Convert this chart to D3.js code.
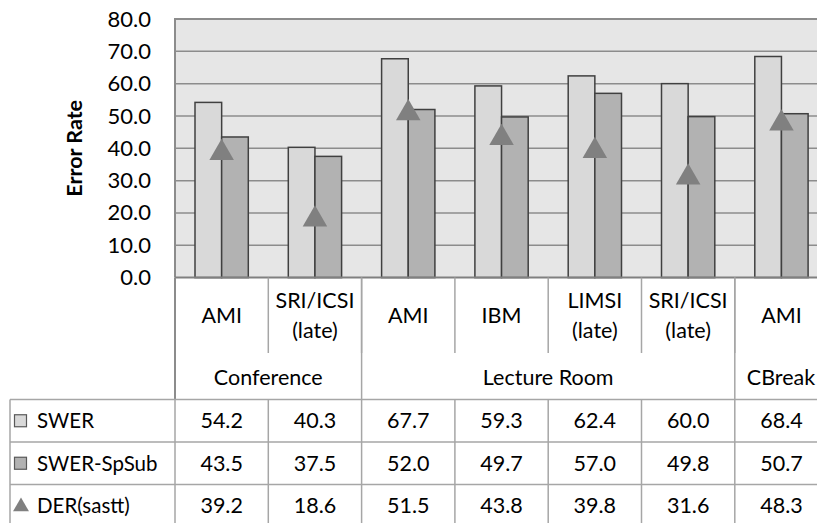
<!DOCTYPE html>
<html>
<head>
<meta charset="utf-8">
<script src="https://cdn.jsdelivr.net/npm/d3@7/dist/d3.min.js"></script>
<style>
  html, body { margin: 0; padding: 0; background: #ffffff; }
  svg { display: block; }
  text { font-family: Lato, "Noto Sans", sans-serif; fill: #000; }
</style>
</head>
<body>
<div id="chart"></div>
<script>
// ---- data ----
const categories = ["AMI", "SRI/ICSI\n(late)", "AMI", "IBM", "LIMSI\n(late)", "SRI/ICSI\n(late)", "AMI"];
const groups = [
  { name: "Conference", start: 0, end: 2 },
  { name: "Lecture Room", start: 2, end: 6 },
  { name: "CBreak", start: 6, end: 7 }
];
const seriesNames = ["SWER", "SWER-SpSub", "DER(sastt)"];
const swer = [54.2, 40.3, 67.7, 59.3, 62.4, 60.0, 68.4];
const swerSpSub = [43.5, 37.5, 52.0, 49.7, 57.0, 49.8, 50.7];
const derSastt = [39.2, 18.6, 51.5, 43.8, 39.8, 31.6, 48.3];
const yTicks = [0, 10, 20, 30, 40, 50, 60, 70, 80];
const yLabel = "Error Rate";

// ---- layout ----
const W = 817, H = 523;
const plotLeft = 175, plotTop = 19, plotBottom = 277.6;
const bandW = 93.3;
const plotRight = plotLeft + bandW * categories.length;
const labelRowBottom = 353, groupRowBottom = 399.5;
const rowH = 42.5;
const tableLeft = 10;
const FS = 21.5;

const svg = d3.select("#chart").append("svg").attr("width", W).attr("height", H);

const idx = categories.map((d, i) => i);
const x = d3.scaleBand().domain(idx).range([plotLeft, plotRight]).paddingInner(0).paddingOuter(0);
const x1 = d3.scaleBand().domain([0, 1]).range([20, x.bandwidth() - 20]);
const y = d3.scaleLinear().domain([0, 80]).range([plotBottom, plotTop]);

// plot background
svg.append("rect").attr("x", plotLeft).attr("y", y(80)).attr("width", plotRight - plotLeft)
  .attr("height", y(0) - y(80)).attr("fill", "#e6e6e6");

// gridlines
svg.append("g").selectAll("line").data(yTicks.filter(t => t > 0)).join("line")
  .attr("x1", plotLeft).attr("x2", plotRight)
  .attr("y1", d => y(d)).attr("y2", d => y(d))
  .attr("stroke", "#8c8c8c").attr("stroke-width", d => d === 80 ? 2 : 1.5);

// left border of plot
svg.append("line").attr("x1", plotLeft).attr("x2", plotLeft).attr("y1", y(80) - 1).attr("y2", y(0))
  .attr("stroke", "#8c8c8c").attr("stroke-width", 2);

// bars
const barData = [];
idx.forEach(i => {
  barData.push({ i, s: 0, v: swer[i] });
  barData.push({ i, s: 1, v: swerSpSub[i] });
});
svg.append("g").selectAll("rect").data(barData).join("rect")
  .attr("x", d => x(d.i) + x1(d.s))
  .attr("y", d => y(d.v))
  .attr("width", x1.bandwidth())
  .attr("height", d => y(0) - y(d.v))
  .attr("fill", d => d.s === 0 ? "#d9d9d9" : "#b2b2b2")
  .attr("stroke", "#404040").attr("stroke-width", 1.5);

// triangles
const tri = d3.symbol().type(d3.symbolTriangle).size(260);
svg.append("g").selectAll("path").data(idx).join("path")
  .attr("d", tri)
  .attr("transform", i => `translate(${x(i) + x.bandwidth() / 2},${y(derSastt[i]) + 2})`)
  .attr("fill", "#808080");

// x axis line
svg.append("line").attr("x1", plotLeft).attr("x2", plotRight).attr("y1", y(0)).attr("y2", y(0))
  .attr("stroke", "#808080").attr("stroke-width", 2);

// y axis labels
const yAxis = d3.axisLeft(y).tickValues(yTicks).tickFormat(d3.format(".1f")).tickSize(0).tickPadding(24);
const ga = svg.append("g").attr("transform", `translate(${plotLeft},0)`).call(yAxis);
ga.select(".domain").remove();
ga.selectAll("text").attr("font-size", 22).attr("font-family", "Lato, sans-serif").attr("fill", "#000");

// y label
svg.append("text").attr("transform", `translate(82,${(plotTop + plotBottom) / 2}) rotate(-90)`)
  .attr("text-anchor", "middle").attr("font-size", 21.5).attr("font-weight", "bold").text(yLabel);

// ---- data table ----
const lineCol = "#a6a6a6";
const tg = svg.append("g");
// category label separators
tg.selectAll("line.cat").data(d3.range(1, categories.length)).join("line")
  .attr("x1", i => x(i)).attr("x2", i => x(i)).attr("y1", plotBottom).attr("y2", labelRowBottom)
  .attr("stroke", lineCol).attr("stroke-width", 1.5);
// left plot border downwards
tg.append("line").attr("x1", plotLeft).attr("x2", plotLeft).attr("y1", plotBottom).attr("y2", groupRowBottom)
  .attr("stroke", "#8c8c8c").attr("stroke-width", 2);
// group separators
tg.selectAll("line.grp").data(groups.slice(1)).join("line")
  .attr("x1", g => x(g.start)).attr("x2", g => x(g.start)).attr("y1", plotBottom).attr("y2", groupRowBottom)
  .attr("stroke", lineCol).attr("stroke-width", 1.5);
// category labels
categories.forEach((c, i) => {
  const lines = c.split("\n");
  const cx = x(i) + x.bandwidth() / 2;
  const t = tg.append("text").attr("text-anchor", "middle").attr("font-size", FS);
  if (lines.length === 1) {
    t.append("tspan").attr("x", cx).attr("y", 323).text(lines[0]);
  } else {
    t.append("tspan").attr("x", cx).attr("y", 308).text(lines[0]);
    t.append("tspan").attr("x", cx).attr("y", 338).text(lines[1]);
  }
});
// group labels
groups.forEach(g => {
  const gx0 = x(g.start), gx1 = g.end < categories.length ? x(g.end) : plotRight;
  tg.append("text").attr("x", g.name === "CBreak" ? gx0 + 12 : (gx0 + gx1) / 2)
    .attr("text-anchor", g.name === "CBreak" ? "start" : "middle")
    .attr("y", 385).attr("font-size", FS).text(g.name);
});

// data rows
const rows = [swer, swerSpSub, derSastt];
rows.forEach((vals, r) => {
  const top = groupRowBottom + r * rowH;
  tg.append("line").attr("x1", tableLeft).attr("x2", plotRight).attr("y1", top).attr("y2", top)
    .attr("stroke", lineCol).attr("stroke-width", 1.5);
  vals.forEach((v, i) => {
    tg.append("text").attr("x", x(i) + x.bandwidth() / 2).attr("y", top + rowH / 2 + 7.5)
      .attr("text-anchor", "middle").attr("font-size", FS).text(d3.format(".1f")(v));
  });
  // legend key
  const ky = top + rowH / 2;
  if (r < 2) {
    tg.append("rect").attr("x", 14.5).attr("y", ky - 6).attr("width", 12).attr("height", 12)
      .attr("fill", r === 0 ? "#d9d9d9" : "#b2b2b2").attr("stroke", "#595959").attr("stroke-width", 1.2);
  } else {
    tg.append("path").attr("d", d3.symbol().type(d3.symbolTriangle).size(110))
      .attr("transform", `translate(21,${ky + 1})`).attr("fill", "#808080");
  }
  tg.append("text").attr("x", 37).attr("y", top + rowH / 2 + 7.5).attr("font-size", 20.5).text(seriesNames[r]);
});
// vertical lines in table rows
const vxs = [tableLeft, plotLeft].concat(d3.range(1, categories.length).map(i => x(i)));
tg.selectAll("line.row").data(vxs).join("line")
  .attr("x1", d => d).attr("x2", d => d).attr("y1", groupRowBottom).attr("y2", H)
  .attr("stroke", lineCol).attr("stroke-width", 1.5);
</script>
</body>
</html>
